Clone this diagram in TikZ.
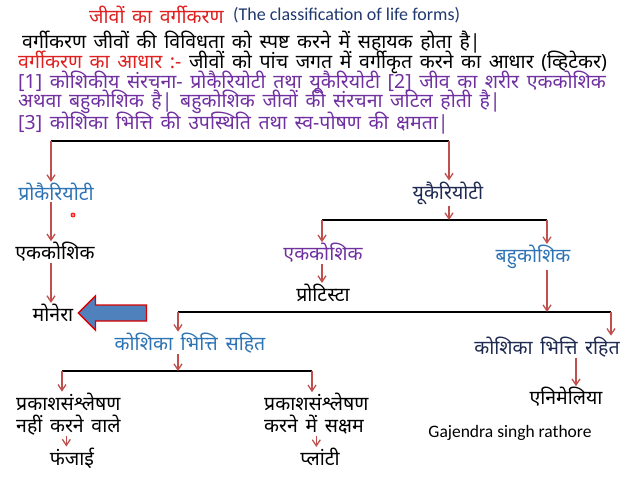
\documentclass[tikz,border=0pt]{standalone}
\usepackage{fontspec}
\usepackage{xcolor}
\usepackage{tikz}
\usetikzlibrary{arrows.meta,positioning}
\newfontfamily\dev[Script=Devanagari,WordSpace=1.5]{Noto Sans}
\newfontfamily\eng{Carlito}
\definecolor{titlered}{RGB}{222,32,32}
\definecolor{engnavy}{RGB}{31,56,110}
\definecolor{lilac}{RGB}{112,48,160}
\definecolor{skyblue}{RGB}{46,116,181}
\definecolor{navy}{RGB}{31,42,80}
\definecolor{arrowred}{RGB}{192,80,77}
\definecolor{arrowblue}{RGB}{79,129,189}

\begin{document}
\begin{tikzpicture}[x=1pt, y=-1pt, lbl/.style={font=\dev\fontsize{19.5}{22}\selectfont, inner sep=1pt}, txt/.style={lbl, anchor=west}, purpletxt/.style={txt, text=lilac}, arr/.style={-{Straight Barb[length=6pt,width=8pt]}, draw=arrowred, line width=1.3pt}, bar/.style={line width=1.6pt}]
\useasboundingbox (0,0) rectangle (640,480);
% heading and text lines
\node[txt, text=titlered] (title) at (88,15) {जीवों का वर्गीकरण};
\node[anchor=west, font=\eng\fontsize{18}{20}\selectfont, text=engnavy, inner sep=1pt] (titleen) at ([xshift=7pt]title.east) {(The classification of life forms)};
\node[txt] (intro) at (21,42) {वर्गीकरण जीवों की विविधता को स्पष्ट करने में सहायक होता है|};
\node[txt] (basis) at (17,62) {\textcolor{titlered}{वर्गीकरण का आधार :-} जीवों को पांच जगत में वर्गीकृत करने का आधार (व्हिटेकर)};
\node[purpletxt] (pointa) at (17,82) {[1] कोशिकीय संरचना- प्रोकैरियोटी तथा यूकैरियोटी [2] जीव का शरीर एककोशिक};
\node[purpletxt] (pointb) at (17,102) {अथवा बहुकोशिक है| बहुकोशिक जीवों की संरचना जटिल होती है|};
\node[purpletxt] (pointc) at (17,123) {[3] कोशिका भित्ति की उपस्थिति तथा स्व-पोषण की क्षमता|};
% tree nodes
\node[lbl, text=skyblue] (prok) at (56,192) {प्रोकैरियोटी};
\node[lbl] (pekk) at (55,252) {एककोशिक};
\node[lbl] (monera) at (53,313) {मोनेरा};
\node[lbl, text=navy] (euk) at (448,193) {यूकैरियोटी};
\node[lbl, text=lilac] (eekk) at (323,253) {एककोशिक};
\node[lbl, text=skyblue] (ebahu) at (533,257) {बहुकोशिक};
\node[lbl] (protista) at (323,293) {प्रोटिस्टा};
\node[lbl, text=skyblue] (sahit) at (190,343) {कोशिका भित्ति सहित};
\node[lbl, text=navy] (rahit) at (547,347) {कोशिका भित्ति रहित};
\node[lbl] (animalia) at (566,397) {एनिमेलिया};
\node[lbl, align=left, anchor=west] (nophoto) at (15,414) {प्रकाशसंश्लेषण\\नहीं करने वाले};
\node[lbl, align=left, anchor=west] (photo) at (263,414) {प्रकाशसंश्लेषण\\करने में सक्षम};
\node[lbl] (fungi) at (72,458) {फंजाई};
\node[lbl] (plantae) at (320,457) {प्लांटी};
\node[font=\eng\fontsize{17.5}{20}\selectfont, inner sep=1pt] (author) at (510,433) {Gajendra singh rathore};
% bar ends
\coordinate (topl) at (51,141);
\coordinate (topr) at (449,141);
\coordinate (eukl) at (322,220);
\coordinate (eukr) at (547,220);
\coordinate (bahul) at (178,312);
\coordinate (bahur) at (611,312);
\coordinate (sahitl) at (62,371);
\coordinate (sahitr) at (312,371);
\draw[bar] (topl)--(topr);
\draw[bar] (eukl)--(eukr);
\draw[bar] (bahul)--(bahur);
\draw[bar] (sahitl)--(sahitr);
% arrows
\draw[arr] (topl)--(topl |- prok.north);
\draw[arr] (topr)--(topr |- euk.north);
\draw[arr] (topl |- prok.south)--(topl |- pekk.north);
\draw[arr] (topl |- pekk.south)--(topl |- monera.north);
\draw[arr] (euk.south -| topr)--(topr |- eukl);
\draw[arr] (eukl)--(eukl |- eekk.north);
\draw[arr] (eukr)--(eukr |- ebahu.north);
\draw[arr] (eukl |- eekk.south)--(eukl |- protista.north);
\draw[arr] (eukr |- ebahu.south)--(eukr |- bahul);
\draw[arr] (bahul)--(bahul |- sahit.north);
\draw[arr] (bahur)--(bahur |- rahit.north);
\draw[arr] ([xshift=29pt]rahit.south)--([xshift=29pt]rahit.south |- animalia.north);
\draw[arr] (bahul |- sahit.south)--(bahul |- sahitl);
\draw[arr] (sahitl)--(sahitl |- nophoto.north);
\draw[arr] (sahitr)--(sahitr |- photo.north);
\draw[arr] ([xshift=-2pt]nophoto.south)--([xshift=-2pt]nophoto.south |- fungi.north);
\draw[arr] (photo.south)--(photo.south |- plantae.north);
% big arrow to monera
\draw[fill=arrowblue, draw=red!85!black, line width=1.4pt, line join=miter] ([xshift=4pt]monera.east) -- ++(17,-17) -- ++(0,9) -- ++(51,0) -- ++(0,16) -- ++(-51,0) -- ++(0,9) -- cycle;
% pointer dot
\draw[red, fill=red!50, line width=0.8pt] (73,215) circle (2pt);
\end{tikzpicture}
\end{document}
